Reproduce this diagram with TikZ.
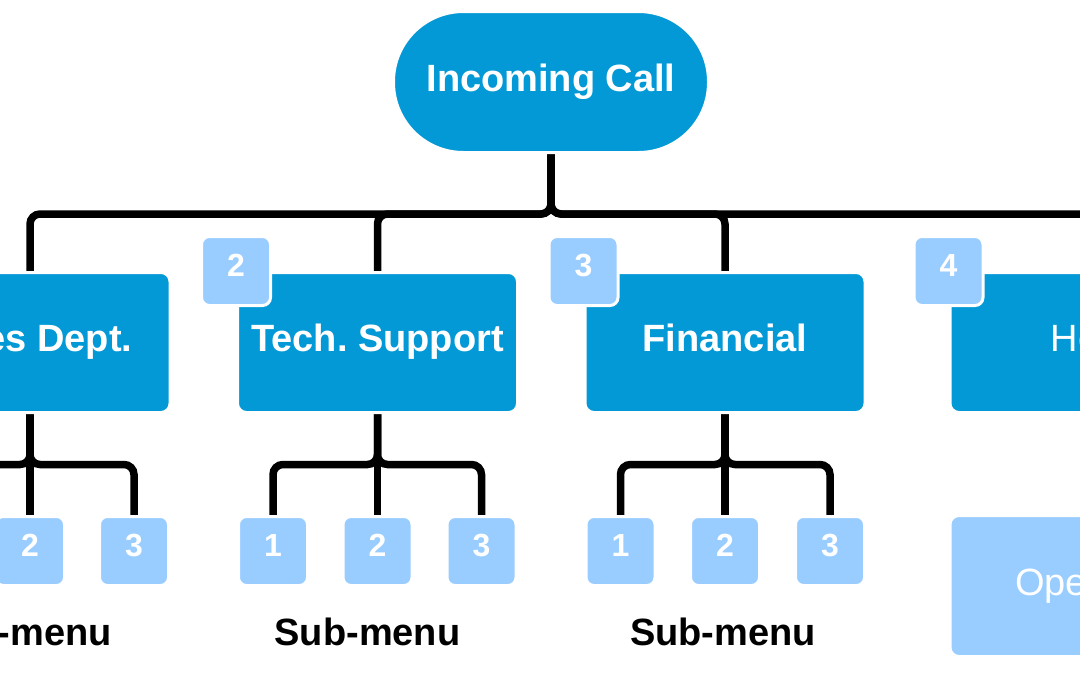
\documentclass[tikz,border=0pt]{standalone}
\usepackage{fontspec}
\setmainfont{Liberation Sans}
\usetikzlibrary{backgrounds}
\definecolor{mainblue}{HTML}{0399D6}
\definecolor{lightblue}{HTML}{99CCFF}
\frenchspacing
\begin{document}
\begin{tikzpicture}[x=1pt,y=-1pt,
  bigfont/.style={font=\fontsize{38}{40}\selectfont\bfseries, text height=28pt, text depth=9.8pt},
  regfont/.style={font=\fontsize{38}{40}\selectfont, text height=28pt, text depth=9.8pt},
  digfont/.style={font=\fontsize{32}{34}\selectfont\bfseries, text height=23pt, text depth=12pt},
  pill/.style={bigfont, text=white, fill=mainblue, draw=white, line width=3pt,
    rounded corners=70pt, minimum width=315pt, minimum height=141pt, inner sep=0pt},
  dept/.style={bigfont, text=white, fill=mainblue, draw=white, line width=3pt,
    rounded corners=9pt, minimum width=280pt, minimum height=140pt, inner sep=0pt},
  badge/.style={digfont, text=white, fill=lightblue, draw=white, line width=3pt,
    rounded corners=8pt, minimum size=69pt, inner sep=0pt},
  oper/.style={regfont, text=white, fill=lightblue, draw=white, line width=3pt,
    rounded corners=9pt, minimum width=280pt, minimum height=141pt, inner sep=0pt},
  sublabel/.style={font=\fontsize{38}{40}\selectfont\bfseries, text=black, anchor=base, inner sep=0pt},
  conn/.style={draw=black, line width=7.5pt, rounded corners=10pt}
]
\useasboundingbox (0,0) rectangle (1080,675);
\clip (0,0) rectangle (1080,675);

% top node
\node[pill] (call) at (551,82) {Incoming Call};

% departments
\node[dept] (sales) at (30,342.5) {Sales Dept.};
\node[dept] (tech) at (377.5,342.5) {Tech. Support};
\node[dept] (fin) at (725,342.5) {Financial};
\node[dept, regfont] (help) at (1090,342.5) {Help};

% badges
\node[badge] (b1) at (sales.north west) {1};
\node[badge] (b2) at (tech.north west) {2};
\node[badge] (b3) at (fin.north west) {3};
\node[badge] (b4) at (help.north west) {4};

% sub-menu boxes
\node[badge] (sa1) at (-74,551) {1};
\node[badge] (sa2) at (30,551) {2};
\node[badge] (sa3) at (134,551) {3};
\node[badge] (te1) at (273,551) {1};
\node[badge] (te2) at (377.5,551) {2};
\node[badge] (te3) at (481.5,551) {3};
\node[badge] (fi1) at (620.5,551) {1};
\node[badge] (fi2) at (725,551) {2};
\node[badge] (fi3) at (830,551) {3};

% operator
\node[oper] (op) at (1090,586) {Operator};

% labels
\node[sublabel] (lsa) at (19,645) {Sub-menu};
\node[sublabel] (lte) at (367.5,645) {Sub-menu};
\node[sublabel] (lfi) at (723,645) {Sub-menu};

\begin{pgfonlayer}{background}
\clip (0,0) rectangle (1080,675);
\draw[conn] (call.south) -- ++(0,60) -| (sales.north);
\draw[conn] (call.south) -- ++(0,60) -| (tech.north);
\draw[conn] (call.south) -- ++(0,60) -| (fin.north);
\draw[conn] (call.south) -- ++(0,60) -| (help.north);

\draw[conn] (sales.south) -- ++(0,50.5) -| (sa1.north);
\draw[conn] (sales.south) -- (sa2.north);
\draw[conn] (sales.south) -- ++(0,50.5) -| (sa3.north);

\draw[conn] (tech.south) -- ++(0,50.5) -| (te1.north);
\draw[conn] (tech.south) -- (te2.north);
\draw[conn] (tech.south) -- ++(0,50.5) -| (te3.north);

\draw[conn] (fin.south) -- ++(0,50.5) -| (fi1.north);
\draw[conn] (fin.south) -- (fi2.north);
\draw[conn] (fin.south) -- ++(0,50.5) -| (fi3.north);
\end{pgfonlayer}
\end{tikzpicture}
\end{document}
